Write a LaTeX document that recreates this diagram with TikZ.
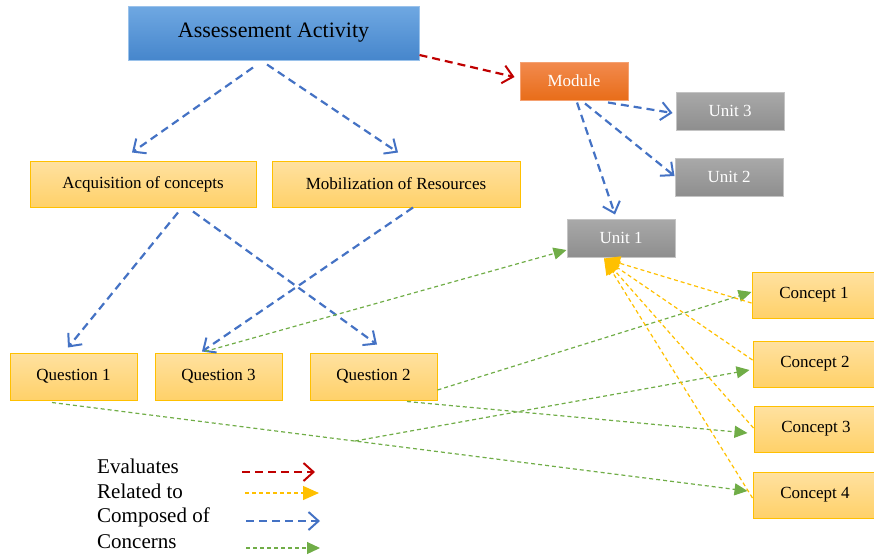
\documentclass[tikz,border=0pt]{standalone}
\usepackage{fontspec}
\setmainfont{Liberation Serif}
\usetikzlibrary{arrows.meta}
\definecolor{ytop}{HTML}{FFE1A0}
\definecolor{ybot}{HTML}{FFD169}
\definecolor{ybord}{HTML}{FFC000}
\definecolor{btop}{HTML}{6FA8E2}
\definecolor{bbot}{HTML}{4686CC}
\definecolor{otop}{HTML}{F28A4E}
\definecolor{obot}{HTML}{E86D19}
\definecolor{gtop}{HTML}{A9A9A9}
\definecolor{gbot}{HTML}{8E8E8E}
\definecolor{gbord}{HTML}{C4C4C4}
\definecolor{cred}{HTML}{C00000}
\definecolor{cblue}{HTML}{4472C4}
\definecolor{cyellow}{HTML}{FFC000}
\definecolor{cgreen}{HTML}{70AD47}
\tikzset{
  box/.style={draw,line width=1pt,inner sep=0pt,font=\fontsize{17}{20}\selectfont},
  yellowbox/.style={box,draw=ybord,top color=ytop,bottom color=ybot,minimum height=46pt},
  unitbox/.style={box,draw=gbord,top color=gtop,bottom color=gbot,text=white,minimum width=108pt,minimum height=38pt},
  evaluates/.style={draw=cred,line width=2.2pt,dash pattern=on 8pt off 5pt,-{Straight Barb[length=10pt,width=18pt,line width=2pt]}},
  composed/.style={draw=cblue,line width=2.2pt,dash pattern=on 8pt off 5pt,-{Straight Barb[length=10pt,width=18pt,line width=2pt]}},
  relatedto/.style={draw=cyellow,line width=1.2pt,dash pattern=on 4pt off 3pt,-{Triangle[length=16pt,width=14pt]}},
  concerns/.style={draw=cgreen,line width=1.2pt,dash pattern=on 4pt off 3pt,-{Triangle[length=13pt,width=12pt]}},
  legend/.style={anchor=west,inner sep=0pt,font=\fontsize{21}{24}\selectfont}
}
\begin{document}
\begin{tikzpicture}[x=1pt,y=-1pt]
\useasboundingbox (0,0) rectangle (874,555);
% boxes
\node[box,draw=btop!70!white,top color=btop,bottom color=bbot,minimum width=291pt,minimum height=54pt,font=\fontsize{22}{26}\selectfont] (aa) at (273.5,33) {Assessement Activity};
\node[box,draw=otop!80!white,top color=otop,bottom color=obot,text=white,minimum width=108pt,minimum height=38pt] (mod) at (574,81) {Module};
\node[unitbox] (u3) at (730,111) {Unit 3};
\node[unitbox] (u2) at (729,177) {Unit 2};
\node[unitbox] (u1) at (621,238) {Unit 1};
\node[yellowbox,minimum width=226pt] (acq) at (143,184) {Acquisition of concepts};
\node[yellowbox,minimum width=248pt] (mob) at (396,184) {Mobilization of Resources};
\node[yellowbox,minimum width=127pt,minimum height=47pt] (q1) at (73.5,376.5) {Question 1};
\node[yellowbox,minimum width=127pt,minimum height=47pt] (q3) at (218.5,376.5) {Question 3};
\node[yellowbox,minimum width=127pt,minimum height=47pt] (q2) at (373.5,376.5) {Question 2};
\node[yellowbox,minimum width=124pt] (c1) at (814,295) {Concept 1};
\node[yellowbox,minimum width=124pt] (c2) at (815,364) {Concept 2};
\node[yellowbox,minimum width=124pt] (c3) at (816,429) {Concept 3};
\node[yellowbox,minimum width=124pt] (c4) at (815,495) {Concept 4};
% evaluates
\draw[evaluates] ([yshift=-22pt]aa.east) -- ([xshift=-5pt,yshift=4pt]mod.west);
% composed of
\draw[composed] ([xshift=-20.5pt,yshift=-7pt]aa.south) -- ([xshift=-11pt,yshift=8pt]acq.north);
\draw[composed] ([xshift=-6.5pt,yshift=-4pt]aa.south) -- ([xshift=2pt,yshift=8pt]mob.north);
\draw[composed] ([xshift=3pt,yshift=-2pt]mod.south) -- ([xshift=-6pt,yshift=4pt]u1.north);
\draw[composed] ([xshift=11pt,yshift=-3pt]mod.south) -- ([yshift=1pt]u2.west);
\draw[composed] ([xshift=34pt,yshift=-2pt]mod.south) -- ([xshift=-3pt,yshift=-2pt]u3.west);
\draw[composed] ([xshift=35pt,yshift=-5pt]acq.south) -- ([xshift=-5.5pt,yshift=5pt]q1.north);
\draw[composed] ([xshift=50pt,yshift=-4pt]acq.south) -- ([xshift=3.5pt,yshift=8pt]q2.north);
\draw[composed] ([xshift=17pt]mob.south) -- ([xshift=-16.5pt,yshift=1pt]q3.north);
% concerns
\coordinate (split) at (355,441);
\draw[concerns] ([xshift=-13.5pt,yshift=1pt]q3.north) -- ([yshift=-12pt]u1.west);
\draw[concerns] ([yshift=-13.5pt]q2.east) -- ([yshift=3pt]c1.west);
\draw[concerns] ([xshift=33.5pt,yshift=-1pt]q2.south) -- ([xshift=-6pt,yshift=-4pt]c3.west);
\draw[concerns] ([xshift=-21.5pt,yshift=-2pt]q1.south) -- ([xshift=-5pt,yshift=4pt]c4.west);
\draw[concerns] (split) -- ([xshift=-3pt,yshift=-6pt]c2.west);
% related to
\draw[relatedto] ([yshift=-8pt]c1.west) -- ([xshift=-17pt,yshift=-1pt]u1.south);
\draw[relatedto] ([yshift=4pt]c2.west) -- ([xshift=-17pt,yshift=-1pt]u1.south);
\draw[relatedto] ([yshift=1pt]c3.west) -- ([xshift=-17pt,yshift=-1pt]u1.south);
\draw[relatedto] ([yshift=-3pt]c4.west) -- ([xshift=-17pt,yshift=-1pt]u1.south);
% legend
\node[legend] (l1) at (97,466) {Evaluates};
\node[legend] (l2) at (97,491) {Related to};
\node[legend] (l3) at (97,517) {Composed of};
\node[legend] (l4) at (97,542) {Concerns};
\coordinate (e1) at (242,472); \coordinate (e2) at (315,472);
\coordinate (r1) at (245,493); \coordinate (r2) at (319,493);
\coordinate (k1) at (246,521); \coordinate (k2) at (320,521);
\coordinate (g1) at (246,548); \coordinate (g2) at (320,548);
\draw[evaluates] (e1) -- (e2);
\draw[relatedto] (r1) -- (r2);
\draw[composed] (k1) -- (k2);
\draw[concerns] (g1) -- (g2);
\end{tikzpicture}
\end{document}
